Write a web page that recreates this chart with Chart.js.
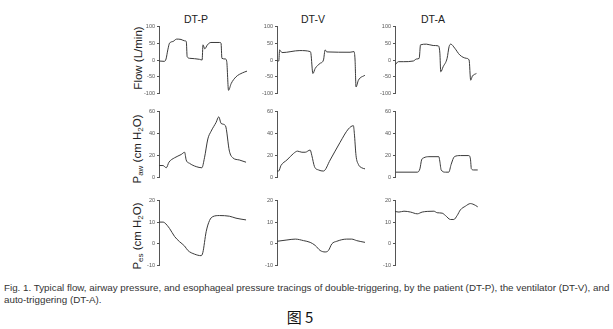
<!DOCTYPE html>
<html>
<head>
<meta charset="utf-8">
<script src="https://cdn.jsdelivr.net/npm/chart.js@4.4.1/dist/chart.umd.min.js"></script>
<style>
  body { margin: 0; background: #fff; width: 613px; height: 329px; overflow: hidden; position: relative; font-family: Arial, "Liberation Sans", sans-serif; }
  canvas { position: absolute; }
  .col { position: absolute; top: 13px; font-size: 10.5px; color: #222; transform: translateX(-50%); }
  .ytitle { position: absolute; font-size: 11.5px; color: #222; white-space: nowrap; transform: translate(-50%, -50%) rotate(-90deg); }
  .ytitle sub { font-size: 8px; vertical-align: -2px; }
  .cap { position: absolute; left: 4px; top: 282px; font-size: 9.8px; line-height: 12px; color: #333; white-space: nowrap; }
  .fig { position: absolute; left: 300px; top: 306px; font-size: 15px; color: #111; transform: translateX(-50%); font-family: "Noto Sans CJK SC", sans-serif; }
</style>
</head>
<body>
<div class="col" style="left:196px">DT-P</div>
<div class="col" style="left:313px">DT-V</div>
<div class="col" style="left:433px">DT-A</div>

<div class="ytitle" style="left:138px; top:58px">Flow (L/min)</div>
<div class="ytitle" style="left:138px; top:149px">P<sub>aw</sub> (cm H<sub>2</sub>O)</div>
<div class="ytitle" style="left:138px; top:236px">P<sub>es</sub> (cm H<sub>2</sub>O)</div>

<canvas id="flowP" width="112" height="78" style="left:137px; top:21px"></canvas>
<canvas id="flowV" width="112" height="78" style="left:255px; top:21px"></canvas>
<canvas id="flowA" width="112" height="78" style="left:373px; top:21px"></canvas>
<canvas id="pawP" width="112" height="77" style="left:137px; top:106px"></canvas>
<canvas id="pawV" width="112" height="77" style="left:255px; top:106px"></canvas>
<canvas id="pawA" width="112" height="77" style="left:373px; top:106px"></canvas>
<canvas id="pesP" width="112" height="76" style="left:137px; top:195px"></canvas>
<canvas id="pesV" width="112" height="76" style="left:255px; top:195px"></canvas>
<canvas id="pesA" width="112" height="76" style="left:373px; top:195px"></canvas>

<div class="cap">Fig. 1. Typical flow, airway pressure, and esophageal pressure tracings of double-triggering, by the patient (DT-P), the ventilator (DT-V), and<br>auto-triggering (DT-A).</div>
<div class="fig">图 5</div>

<script>
// time axis is arbitrary units (0-100) across each panel
// Flow (L/min)
var tFlowP = [0, 6, 8, 10, 12, 16, 20, 25, 29, 31, 32, 35, 46, 49, 50, 52, 55, 59, 69, 70.5, 71.5, 75.5, 77, 79, 82, 87.5, 95, 100];
var flowP  = [-3, -4, 3, 30, 50, 55, 62, 61, 57, 55, 10, 5, 2, 0, 45, 33, 45, 52, 52, 50, 5, 3, -5, -90, -70, -50, -38, -33];
var tFlowV = [0, 2, 3, 4.5, 5.7, 26, 37.7, 38.5, 40.8, 43.4, 49, 52.8, 54.7, 56.6, 83, 87.5, 88.7, 89.8, 92.5, 100];
var flowV  = [-3, -3, 30, 25, 22, 28, 25, 20, -40, -25, -10, 0, 30, 24, 23, 25, 0, -80, -60, -45];
var tFlowA = [0, 3.8, 9.4, 20.8, 24.5, 27.5, 29, 35.8, 43.4, 49, 51, 52, 54.7, 59.2, 61.5, 63.4, 67.9, 73.6, 81.1, 84.2, 86, 87.9, 92.5];
var flowA  = [-15, -5, -5, -3, 3, 5, 45, 47, 43, 42, 20, -35, -20, 5, 40, 47, 35, 15, 5, 0, -60, -48, -40];

// Paw (cm H2O)
var tPawP = [0, 4.5, 8.3, 11.3, 17.7, 25.3, 29.1, 30.9, 34.7, 42.3, 48.7, 51.7, 55.5, 59.2, 64.9, 67.9, 70.6, 75.5, 80, 83.8, 91.3, 98.9];
var pawP  = [11, 11, 9, 14, 18, 21, 23, 16, 13, 10, 9, 18, 35, 42, 50, 55, 49, 47, 24, 18, 16, 14];
var tPawV = [0, 1.9, 4.5, 11.3, 18.9, 23.4, 28.3, 32.1, 37.7, 39.6, 42.6, 47.2, 52.8, 60.4, 71.7, 81.1, 86.8, 87.9, 89.8, 92.5, 96.2, 100];
var pawV  = [6, 6, 11, 16, 22, 24, 23, 23, 25, 20, 10, 7, 6, 16, 32, 44, 47, 40, 20, 12, 9, 8];
var tPawA = [0.8, 25.3, 28.3, 30.2, 32.8, 38.5, 49.8, 50.9, 52.5, 57.4, 61.1, 63.8, 67.5, 74.3, 83.8, 85.7, 86.8, 89.4, 94];
var pawA  = [5, 5, 8, 16, 18, 19, 19, 15, 7, 5, 5, 12, 19, 20, 20, 17, 8, 7, 7];

// Pes (cm H2O)
var tPesP = [0, 4.5, 6.4, 12.1, 17.7, 23.4, 29.1, 32.8, 40.4, 47.9, 49.8, 53.6, 57.4, 61.1, 68.7, 80, 87.5, 98.9];
var pesP  = [10, 10, 9.7, 7, 3.4, 1, -1, -3, -4.7, -5.4, -4, 5.6, 10.7, 12.5, 13, 12.7, 11.8, 11];
var tPesV = [0, 11.3, 20.8, 30.2, 37.7, 43.4, 49, 54.7, 58.5, 62.3, 67.9, 79.2, 84.9, 90.6, 100];
var pesV  = [1.2, 1.8, 2.2, 1.5, 0.7, -0.7, -3, -3.7, -3, 0, 1.2, 2.2, 2.2, 1.5, 0.7];
var tPesA = [0, 4.5, 10.2, 17.7, 25.3, 30.9, 36.6, 44.2, 47.9, 53.6, 57.4, 63, 66.8, 70.6, 74.3, 80, 85.7, 91.3, 94];
var pesA  = [14.9, 14.6, 15, 14.6, 13.8, 14.6, 14.9, 15, 14.3, 14.1, 13, 11.2, 11.2, 13, 15.6, 17.3, 18.5, 17.7, 17];

var flowRange = [-100, 100, 50];
var pawRange = [0, 60, 20];
var pesRange = [-10, 20, 10];

function panel(id, t, v, range) {
  var pts = t.map(function (x, i) { return { x: x, y: v[i] }; });
  new Chart(document.getElementById(id), {
    type: 'line',
    data: {
      datasets: [{
        data: pts,
        borderColor: '#3a3a3a',
        borderWidth: 1,
        pointRadius: 0,
        cubicInterpolationMode: 'monotone'
      }]
    },
    options: {
      responsive: false,
      animation: false,
      devicePixelRatio: 1,
      layout: { padding: { top: 4, bottom: 4, left: 0, right: 2 } },
      plugins: { legend: { display: false }, tooltip: { enabled: false } },
      scales: {
        x: { type: 'linear', min: 0, max: 100, display: false },
        y: {
          min: range[0], max: range[1],
          afterFit: function (s) { s.width = 22; },
          ticks: { stepSize: range[2], color: '#555', padding: 2, font: { size: 5.5, family: 'Arial, "Liberation Sans", sans-serif' } },
          grid: { display: true, drawOnChartArea: false, drawTicks: true, tickLength: 2, color: '#555' },
          border: { display: true, color: '#555', width: 1 }
        }
      }
    }
  });
}

panel('flowP', tFlowP, flowP, flowRange);
panel('flowV', tFlowV, flowV, flowRange);
panel('flowA', tFlowA, flowA, flowRange);
panel('pawP', tPawP, pawP, pawRange);
panel('pawV', tPawV, pawV, pawRange);
panel('pawA', tPawA, pawA, pawRange);
panel('pesP', tPesP, pesP, pesRange);
panel('pesV', tPesV, pesV, pesRange);
panel('pesA', tPesA, pesA, pesRange);
</script>
</body>
</html>
